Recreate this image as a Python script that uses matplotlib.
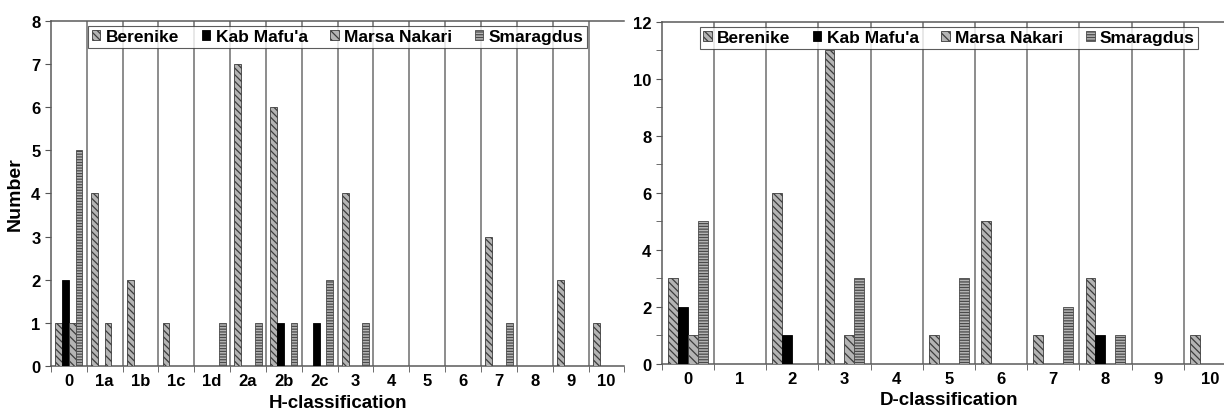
import numpy as np
import matplotlib
matplotlib.use("Agg")
import matplotlib.pyplot as plt
from matplotlib.patches import Patch

plt.rcParams['font.family'] = ['Liberation Sans', 'DejaVu Sans']
plt.rcParams['font.weight'] = 'bold'
plt.rcParams['hatch.linewidth'] = 0.9

sites = ["Berenike", "Kab Mafu'a", "Marsa Nakari", "Smaragdus"]

# H-classification counts per site
h_cats = ["0", "1a", "1b", "1c", "1d", "2a", "2b", "2c", "3", "4", "5", "6", "7", "8", "9", "10"]
h_berenike = [1, 4, 2, 1, 0, 7, 6, 0, 4, 0, 0, 0, 3, 0, 2, 1]
h_kab = [2, 0, 0, 0, 0, 0, 1, 1, 0, 0, 0, 0, 0, 0, 0, 0]
h_marsa = [1, 1, 0, 0, 0, 0, 0, 0, 0, 0, 0, 0, 0, 0, 0, 0]
h_smaragdus = [5, 0, 0, 0, 1, 1, 1, 2, 1, 0, 0, 0, 1, 0, 0, 0]

# D-classification counts per site
d_cats = ["0", "1", "2", "3", "4", "5", "6", "7", "8", "9", "10"]
d_berenike = [3, 0, 6, 11, 0, 1, 5, 1, 3, 0, 1]
d_kab = [2, 0, 1, 0, 0, 0, 0, 0, 1, 0, 0]
d_marsa = [1, 0, 0, 1, 0, 0, 0, 0, 0, 0, 0]
d_smaragdus = [5, 0, 0, 3, 0, 3, 0, 2, 1, 0, 0]

styles = [
    dict(facecolor="#b4b4b4", edgecolor="#3c3c3c", hatch="\\\\\\\\\\"),
    dict(facecolor="black", edgecolor="black", hatch=None),
    dict(facecolor="#b4b4b4", edgecolor="#3c3c3c", hatch="\\\\\\\\"),
    dict(facecolor="#b4b4b4", edgecolor="#4a4a4a", hatch="------"),
]

W = 0.19
FS = 12


def draw(ax, cats, series, ymax, ystep, xlabel, minor=None):
    x = np.arange(len(cats))
    for i, (vals, st) in enumerate(zip(series, styles)):
        ax.bar(x + (i - 1.5) * W, vals, W, linewidth=0.6, zorder=3, **st)
    ax.set_xlim(-0.5, len(cats) - 0.5)
    ax.set_ylim(0, ymax)
    ax.set_yticks(np.arange(0, ymax + 1, ystep))
    if minor:
        ax.set_yticks(np.arange(0, ymax + 1, minor), minor=True)
    ax.set_xticks(x)
    ax.set_xticklabels(cats)
    ax.set_xticks(np.arange(-0.5, len(cats)), minor=True)
    ax.tick_params(axis='x', which='major', length=0, pad=5, labelsize=FS)
    ax.tick_params(axis='x', which='minor', length=4, direction='out', color='#555555')
    ax.tick_params(axis='y', which='both', length=4, direction='out', color='#555555', labelsize=FS)
    # category boundaries
    for b in np.arange(0.5, len(cats) - 0.5):
        ax.axvline(b, color='#6e6e6e', lw=1.1, zorder=1)
    for s in ['left', 'bottom', 'top']:
        ax.spines[s].set_color('#5a5a5a')
        ax.spines[s].set_linewidth(1.1)
    ax.spines['right'].set_visible(False)
    ax.set_xlabel(xlabel, fontsize=13.5, fontweight='bold', labelpad=4)
    handles = [Patch(label=s, **st, linewidth=0.6) for s, st in zip(sites, styles)]
    leg = ax.legend(handles=handles, loc='upper center', ncol=4, fontsize=FS + 0.5,
                    frameon=True, fancybox=False, edgecolor='#333333',
                    handlelength=0.5, handleheight=0.5, handletextpad=0.3,
                    columnspacing=1.3, borderpad=0.2, borderaxespad=0.3)
    leg.get_frame().set_linewidth(0.8)
    leg.set_zorder(5)


fig = plt.figure(figsize=(12.24, 4.14), dpi=100)
ax1 = fig.add_axes([50.8 / 1224, 1 - 367 / 414, 573.6 / 1224, 345.3 / 414])
ax2 = fig.add_axes([661.7 / 1224, 1 - 365 / 414, 574.2 / 1224, 342.3 / 414])

draw(ax1, h_cats, [h_berenike, h_kab, h_marsa, h_smaragdus], 8, 1, "H-classification")
draw(ax2, d_cats, [d_berenike, d_kab, d_marsa, d_smaragdus], 12, 2, "D-classification", minor=1)
ax1.set_ylabel("Number", fontsize=14, fontweight='bold', labelpad=5)

fig.savefig("out.png", dpi=100)
